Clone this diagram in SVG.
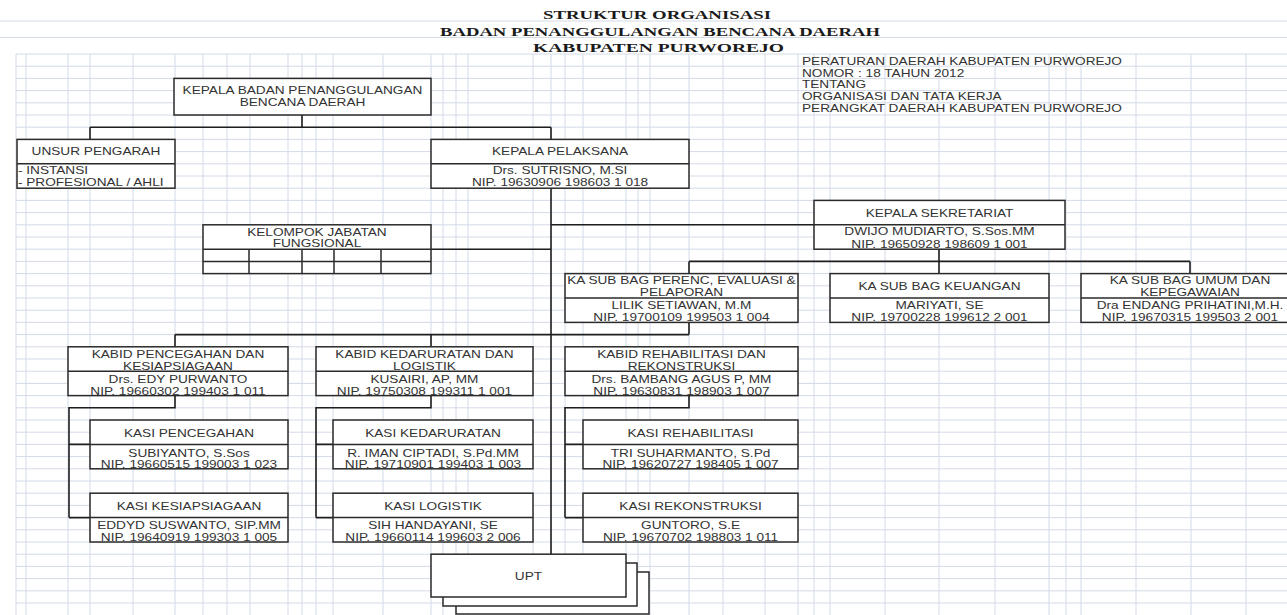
<svg xmlns="http://www.w3.org/2000/svg" width="1287" height="615" viewBox="0 0 1287 615">
<style>
.grid{stroke:#d3dae8;stroke-width:1;fill:none}
.box{fill:#fff;stroke:#2a2a2a;stroke-width:1.5}
.ln{stroke:#2a2a2a;stroke-width:1.5;fill:none}
.con{stroke:#1e1e1e;stroke-width:1.6;fill:none}
.t{font-family:"Liberation Sans",Arial,sans-serif;font-size:10.5px;fill:#333;text-anchor:middle}
.l{text-anchor:start}
.ttl{font-family:"Liberation Serif","Times New Roman",serif;font-weight:bold;font-size:12.5px;fill:#1a1a1a;text-anchor:middle}
</style>
<rect x="0" y="0" width="1287" height="615" fill="#fff"/>
<g id="grid">
<path class="grid" d="M0 21H1287M0 37.5H1287"/>
<path class="grid" d="M16 54H1287M16 66.2H1287M16 78.4H1287M16 90.6H1287M16 102.8H1287M16 115H1287M16 127.2H1287M16 139.4H1287M16 151.6H1287M16 163.8H1287M16 176H1287M16 188.2H1287M16 200.4H1287M16 212.6H1287M16 224.8H1287M16 237H1287M16 249.2H1287M16 261.4H1287M16 273.6H1287M16 285.8H1287M16 298H1287M16 310.2H1287M16 322.4H1287M16 334.6H1287M16 346.8H1287M16 359H1287M16 371.2H1287M16 383.4H1287M16 395.6H1287M16 407.8H1287M16 420H1287M16 432.2H1287M16 444.4H1287M16 456.6H1287M16 468.8H1287M16 481H1287M16 493.2H1287M16 505.4H1287M16 517.6H1287M16 529.8H1287M16 542H1287M16 554.2H1287M16 566.4H1287M16 578.6H1287M16 590.8H1287M16 603H1287"/>
<path class="grid" d="M16 54V615M26 54V615M68 54V615M90 54V615M133 54V615M175 54V615M203 54V615M227 54V615M250 54V615M288 54V615M302 54V615M316 54V615M333 54V615M383 54V615M431 54V615M443 54V615M456 54V615M468 54V615M533 54V615M551 54V615M565 54V615M583 54V615M626 54V615M638 54V615M650 54V615M689 54V615M723 54V615M765 54V615M798 54V615M814 54V615M830 54V615M885 54V615M939 54V615M995 54V615M1049 54V615M1066 54V615M1081 54V615M1136 54V615M1191 54V615M1246 54V615"/>
</g>
<g id="title">
<text class="ttl" x="657" y="19" textLength="228" lengthAdjust="spacingAndGlyphs">STRUKTUR ORGANISASI</text>
<text class="ttl" x="660" y="36" textLength="440" lengthAdjust="spacingAndGlyphs">BADAN PENANGGULANGAN BENCANA DAERAH</text>
<text class="ttl" x="658.5" y="52" textLength="251" lengthAdjust="spacingAndGlyphs">KABUPATEN PURWOREJO</text>
</g>
<g id="regulation">
<g transform="scale(1.3 1)">
<text class="t l" x="616.9" y="65.5">PERATURAN DAERAH KABUPATEN PURWOREJO</text>
<text class="t l" x="616.9" y="77">NOMOR : 18 TAHUN 2012</text>
<text class="t l" x="616.9" y="88.5">TENTANG</text>
<text class="t l" x="616.9" y="100.5">ORGANISASI DAN TATA KERJA</text>
<text class="t l" x="616.9" y="112.5">PERANGKAT DAERAH KABUPATEN PURWOREJO</text>
</g>
</g>
<g id="connectors">
<path class="con" d="M302 115V127.2M90 127.2H551M90 127.2V139.4M551 127.2V139.4"/>
<path class="con" d="M551 188.2V554.2"/>
<path class="con" d="M431 249.2H551M551 224.8H814"/>
<path class="con" d="M939 249.2V273.6M689 261.4H1190M689 261.4V273.6M1190 261.4V273.6"/>
<path class="con" d="M689 322.4V334.6M175 334.6H689M175 334.6V346.8M431 334.6V346.8"/>
<path class="con" d="M175 395.6V407.8H69V517.6M69 444.4H90M69 517.6H90"/>
<path class="con" d="M431 395.6V407.8H316V517.6M316 444.4H333M316 517.6H333"/>
<path class="con" d="M689 395.6V407.8H565V517.6M565 444.4H583M565 517.6H583"/>
</g>
<g id="kepala-badan">
<rect class="box" x="174" y="78.4" width="257" height="36.6"/>
<g transform="scale(1.3 1)">
<text class="t" x="232.7" y="94">KEPALA BADAN PENANGGULANGAN</text>
<text class="t" x="232.7" y="106.5">BENCANA DAERAH</text>
</g>
</g>
<g id="unsur-pengarah">
<rect class="box" x="17" y="139.4" width="158" height="48.8"/>
<path class="ln" d="M17 163.8H175"/>
<g transform="scale(1.3 1)">
<text class="t" x="73.8" y="155.5">UNSUR PENGARAH</text>
<text class="t l" x="13.8" y="174">- INSTANSI</text>
<text class="t l" x="13.8" y="186.5">- PROFESIONAL / AHLI</text>
</g>
</g>
<g id="kepala-pelaksana">
<rect class="box" x="431" y="139.4" width="258" height="48.8"/>
<path class="ln" d="M431 163.8H689"/>
<g transform="scale(1.3 1)">
<text class="t" x="430.8" y="155.5">KEPALA PELAKSANA</text>
<text class="t" x="430.8" y="174.5">Drs. SUTRISNO, M.SI</text>
<text class="t" x="430.8" y="186.5">NIP. 19630906 198603 1 018</text>
</g>
</g>
<g id="kelompok-jabatan">
<rect class="box" x="203" y="224.8" width="228" height="48.8"/>
<path class="ln" d="M203 249.2H431M203 261.4H431M249 249.2V273.6M302 249.2V273.6M334 249.2V273.6M381 249.2V273.6"/>
<g transform="scale(1.3 1)">
<text class="t" x="243.8" y="236">KELOMPOK JABATAN</text>
<text class="t" x="243.8" y="247.5">FUNGSIONAL</text>
</g>
</g>
<g id="kepala-sekretariat">
<rect class="box" x="814" y="200.4" width="251" height="48.8"/>
<path class="ln" d="M814 224.8H1065"/>
<g transform="scale(1.3 1)">
<text class="t" x="722.7" y="217">KEPALA SEKRETARIAT</text>
<text class="t" x="722.7" y="235.5">DWIJO MUDIARTO, S.Sos.MM</text>
<text class="t" x="722.7" y="248">NIP. 19650928 198609 1 001</text>
</g>
</g>
<g id="subbag-perencanaan">
<rect class="box" x="565" y="273.6" width="233" height="48.8"/>
<path class="ln" d="M565 298H798"/>
<g transform="scale(1.3 1)">
<text class="t" x="524.2" y="284.5">KA SUB BAG PERENC, EVALUASI &amp;</text>
<text class="t" x="524.2" y="296">PELAPORAN</text>
<text class="t" x="524.2" y="309.5">LILIK SETIAWAN, M.M</text>
<text class="t" x="524.2" y="321">NIP. 19700109 199503 1 004</text>
</g>
</g>
<g id="subbag-keuangan">
<rect class="box" x="830" y="273.6" width="219" height="48.8"/>
<path class="ln" d="M830 298H1049"/>
<g transform="scale(1.3 1)">
<text class="t" x="722.7" y="290.5">KA SUB BAG KEUANGAN</text>
<text class="t" x="722.7" y="309.5">MARIYATI, SE</text>
<text class="t" x="722.7" y="321">NIP. 19700228 199612 2 001</text>
</g>
</g>
<g id="subbag-umum">
<rect class="box" x="1081" y="273.6" width="220" height="48.8"/>
<path class="ln" d="M1081 298H1301"/>
<g transform="scale(1.3 1)">
<text class="t" x="915.4" y="284.5">KA SUB BAG UMUM DAN</text>
<text class="t" x="915.4" y="296">KEPEGAWAIAN</text>
<text class="t" x="915.4" y="309.5">Dra ENDANG PRIHATINI,M.H.</text>
<text class="t" x="915.4" y="321">NIP. 19670315 199503 2 001</text>
</g>
</g>
<g id="kabid-pencegahan">
<rect class="box" x="68" y="346.8" width="220" height="48.8"/>
<path class="ln" d="M68 371.2H288"/>
<g transform="scale(1.3 1)">
<text class="t" x="136.9" y="358.5">KABID PENCEGAHAN DAN</text>
<text class="t" x="136.9" y="370">KESIAPSIAGAAN</text>
<text class="t" x="136.9" y="383">Drs. EDY PURWANTO</text>
<text class="t" x="136.9" y="395">NIP. 19660302 199403 1 011</text>
</g>
</g>
<g id="kabid-kedaruratan">
<rect class="box" x="316" y="346.8" width="217" height="48.8"/>
<path class="ln" d="M316 371.2H533"/>
<g transform="scale(1.3 1)">
<text class="t" x="326.5" y="358.5">KABID KEDARURATAN DAN</text>
<text class="t" x="326.5" y="370">LOGISTIK</text>
<text class="t" x="326.5" y="383">KUSAIRI, AP, MM</text>
<text class="t" x="326.5" y="395">NIP. 19750308 199311 1 001</text>
</g>
</g>
<g id="kabid-rehabilitasi">
<rect class="box" x="565" y="346.8" width="233" height="48.8"/>
<path class="ln" d="M565 371.2H798"/>
<g transform="scale(1.3 1)">
<text class="t" x="524.2" y="358.5">KABID REHABILITASI DAN</text>
<text class="t" x="524.2" y="370">REKONSTRUKSI</text>
<text class="t" x="524.2" y="383">Drs. BAMBANG AGUS P, MM</text>
<text class="t" x="524.2" y="395">NIP. 19630831 198903 1 007</text>
</g>
</g>
<g id="kasi-pencegahan">
<rect class="box" x="90" y="420" width="198" height="48.8"/>
<path class="ln" d="M90 444.4H288"/>
<g transform="scale(1.3 1)">
<text class="t" x="145.4" y="437">KASI PENCEGAHAN</text>
<text class="t" x="145.4" y="456.5">SUBIYANTO, S.Sos</text>
<text class="t" x="145.4" y="468.3">NIP. 19660515 199003 1 023</text>
</g>
</g>
<g id="kasi-kesiapsiagaan">
<rect class="box" x="90" y="493.2" width="198" height="48.8"/>
<path class="ln" d="M90 517.6H288"/>
<g transform="scale(1.3 1)">
<text class="t" x="145.4" y="510">KASI KESIAPSIAGAAN</text>
<text class="t" x="145.4" y="529.5">EDDYD SUSWANTO, SIP.MM</text>
<text class="t" x="145.4" y="541.3">NIP. 19640919 199303 1 005</text>
</g>
</g>
<g id="kasi-kedaruratan">
<rect class="box" x="333" y="420" width="200" height="48.8"/>
<path class="ln" d="M333 444.4H533"/>
<g transform="scale(1.3 1)">
<text class="t" x="333.1" y="437">KASI KEDARURATAN</text>
<text class="t" x="333.1" y="456.5">R. IMAN CIPTADI, S.Pd.MM</text>
<text class="t" x="333.1" y="468.3">NIP. 19710901 199403 1 003</text>
</g>
</g>
<g id="kasi-logistik">
<rect class="box" x="333" y="493.2" width="200" height="48.8"/>
<path class="ln" d="M333 517.6H533"/>
<g transform="scale(1.3 1)">
<text class="t" x="333.1" y="510">KASI LOGISTIK</text>
<text class="t" x="333.1" y="529.5">SIH HANDAYANI, SE</text>
<text class="t" x="333.1" y="541.3">NIP. 19660114 199603 2 006</text>
</g>
</g>
<g id="kasi-rehabilitasi">
<rect class="box" x="583" y="420" width="215" height="48.8"/>
<path class="ln" d="M583 444.4H798"/>
<g transform="scale(1.3 1)">
<text class="t" x="531.2" y="437">KASI REHABILITASI</text>
<text class="t" x="531.2" y="456.5">TRI SUHARMANTO, S.Pd</text>
<text class="t" x="531.2" y="468.3">NIP. 19620727 198405 1 007</text>
</g>
</g>
<g id="kasi-rekonstruksi">
<rect class="box" x="583" y="493.2" width="215" height="48.8"/>
<path class="ln" d="M583 517.6H798"/>
<g transform="scale(1.3 1)">
<text class="t" x="531.2" y="510">KASI REKONSTRUKSI</text>
<text class="t" x="531.2" y="529.5">GUNTORO, S.E</text>
<text class="t" x="531.2" y="541.3">NIP. 19670702 198803 1 011</text>
</g>
</g>
<g id="upt">
<rect class="box" x="456" y="572" width="193" height="42"/>
<rect class="box" x="443" y="563" width="194" height="43"/>
<rect class="box" x="431" y="554.2" width="195" height="42.8"/>
<g transform="scale(1.3 1)">
<text class="t" x="406.5" y="580">UPT</text>
</g>
</g>
</svg>
